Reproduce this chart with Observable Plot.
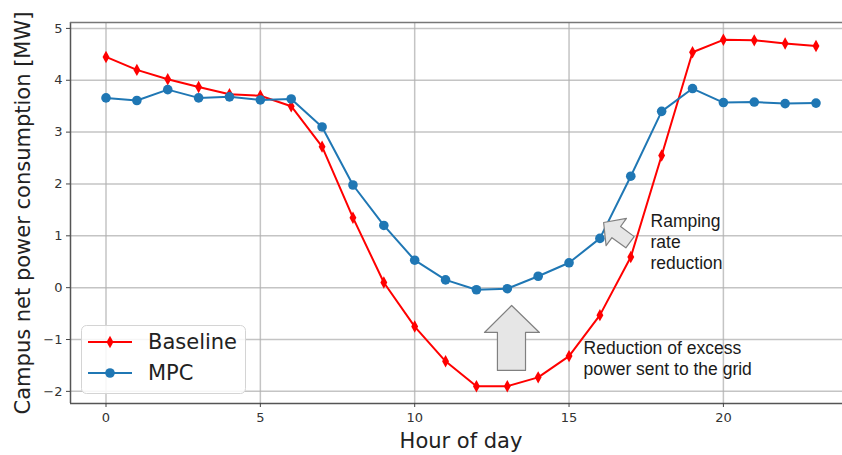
<!DOCTYPE html>
<html><head><meta charset="utf-8">
<script src="https://cdn.jsdelivr.net/npm/d3@7"></script>
<script src="https://cdn.jsdelivr.net/npm/@observablehq/plot@0.6"></script>
<style>
html,body{margin:0;padding:0;overflow:hidden;background:#fff;}
#wrap{position:relative;width:842px;height:455px;overflow:hidden;background:#fff;}
#legend{position:absolute;left:81px;top:325px;}
</style></head><body><div id="wrap"></div>
<script>
// ---- data ----
const hours = [0,1,2,3,4,5,6,7,8,9,10,11,12,13,14,15,16,17,18,19,20,21,22,23];
const baseline = [4.45,4.2,4.02,3.87,3.73,3.7,3.5,2.72,1.35,0.1,-0.75,-1.42,-1.9,-1.9,-1.73,-1.32,-0.53,0.59,2.55,4.54,4.78,4.77,4.71,4.66];
const mpc = [3.66,3.61,3.82,3.66,3.68,3.62,3.64,3.1,1.98,1.2,0.53,0.15,-0.04,-0.02,0.22,0.48,0.95,2.15,3.4,3.84,3.57,3.58,3.55,3.56];
const seriesNames = ["Baseline", "MPC"];
const xTicks = [0,5,10,15,20];
const yTicks = [-2,-1,0,1,2,3,4,5];
const xLabel = "Hour of day";
const yLabel = "Campus net power consumption [MW]";
const noteRamp = "Ramping\nrate\nreduction";
const noteGrid = "Reduction of excess\npower sent to the grid";
// annotation arrows (data coordinates)
const upArrowX = [13.14,14.04,13.59,13.59,12.68,12.68,12.26];
const upArrowY = [-0.343,-0.864,-0.864,-1.597,-1.597,-0.864,-0.864];
const rampArrowX = [16.12,16.86,16.67,17.11,16.84,16.39,16.20];
const rampArrowY = [1.257,1.335,1.180,0.984,0.768,0.964,0.810];

const RED = "#ff0000", BLUE = "#1f77b4";
const rowsB = hours.map((h,i)=>({hour:h, value:baseline[i]}));
const rowsM = hours.map((h,i)=>({hour:h, value:mpc[i]}));
const up = upArrowX.map((x,i)=>({x, y:upArrowY[i]}));
const ramp = rampArrowX.map((x,i)=>({x, y:rampArrowY[i]}));

// matplotlib-style 5% margins
const xe = d3.extent(hours), xm = (xe[1]-xe[0])*0.05;
const xDom = [xe[0]-xm, xe[1]+xm];
const all = baseline.concat(mpc);
const ye = d3.extent(all), ym = (ye[1]-ye[0])*0.05;
const yDom = [ye[0]-ym, ye[1]+ym];

const thinDiamond = {
  draw(ctx, size) {
    const r = Math.sqrt(size/Math.PI);
    const h = r*1.35, w = r*0.75;
    ctx.moveTo(0,-h); ctx.lineTo(w,0); ctx.lineTo(0,h); ctx.lineTo(-w,0); ctx.closePath();
  }
};

const chart = Plot.plot({
  width: 900, height: 455,
  marginLeft: 70, marginTop: 22, marginBottom: 52, marginRight: 49,
  style: {fontFamily: "DejaVu Sans", fontSize: "13px", color: "#333", background: "#fff", maxWidth: "none"},
  x: {domain: xDom},
  y: {domain: yDom},
  marks: [
    Plot.gridX(xTicks, {stroke: "#b0b0b0", strokeOpacity: 0.75, strokeWidth: 1.5}),
    Plot.gridY(yTicks, {stroke: "#b0b0b0", strokeOpacity: 0.75, strokeWidth: 1.5}),
    Plot.ruleX([xDom[0]], {stroke: "#555", strokeWidth: 1.5}),
    Plot.ruleY([yDom[0]], {stroke: "#555", strokeWidth: 1.5}),
    Plot.ruleY([yDom[1]], {stroke: "#777", strokeWidth: 1.5}),
    Plot.axisX({ticks: xTicks, tickSize: 4, tickPadding: 5, label: null, stroke: "#444", fill: "#333", fontSize: 13}),
    Plot.axisY({ticks: yTicks, tickSize: 4, tickPadding: 4, label: null, stroke: "#444", fill: "#333", fontSize: 13}),
    Plot.text([0], {frameAnchor: "left", text: () => yLabel, rotate: -90, dx: -47, textAnchor: "middle", lineAnchor: "middle", fontSize: 21, fill: "#222"}),
    Plot.text([0], {frameAnchor: "bottom", text: () => xLabel, dy: 38, textAnchor: "middle", lineAnchor: "middle", fontSize: 21, fill: "#222"}),
    Plot.line(rowsB, {x: "hour", y: "value", stroke: RED, strokeWidth: 2}),
    Plot.dot(rowsB, {x: "hour", y: "value", symbol: thinDiamond, r: 4.6, fill: RED, stroke: "none"}),
    Plot.line(rowsM, {x: "hour", y: "value", stroke: BLUE, strokeWidth: 2}),
    Plot.dot(rowsM, {x: "hour", y: "value", r: 4.8, fill: BLUE, stroke: "none"}),
    Plot.line(up, {x: "x", y: "y", curve: "linear-closed", fill: "#e6e6e6", stroke: "#808080", strokeWidth: 1.2}),
    Plot.line(ramp, {x: "x", y: "y", curve: "linear-closed", fill: "#e6e6e6", stroke: "#808080", strokeWidth: 1.2}),
    Plot.text([{x: 17.64, y: 0.9}], {x: "x", y: "y", text: () => noteRamp, textAnchor: "start", lineAnchor: "middle", lineHeight: 1.2, fontFamily: "Liberation Sans", fontSize: 17.5, fill: "#1a1a1a"}),
    Plot.text([{x: 15.47, y: -1.35}], {x: "x", y: "y", text: () => noteGrid, textAnchor: "start", lineAnchor: "middle", lineHeight: 1.2, fontFamily: "Liberation Sans", fontSize: 17.5, fill: "#1a1a1a"})
  ]
});
const wrap = document.getElementById("wrap");
wrap.appendChild(chart);

// legend
const lg = d3.create("svg").attr("id","legend").attr("width",166).attr("height",70);
lg.append("rect").attr("x",0.5).attr("y",0.5).attr("width",164).attr("height",68).attr("rx",5)
  .attr("fill","rgba(255,255,255,0.85)").attr("stroke","#d4d4d4");
const colors = [RED, BLUE];
seriesNames.forEach((name,i)=>{
  const cy = 17 + i*31;
  lg.append("line").attr("x1",7).attr("x2",51).attr("y1",cy).attr("y2",cy).attr("stroke",colors[i]).attr("stroke-width",2);
  if (i===0) {
    const r = 4.6, h = r*1.35, w = r*0.75;
    lg.append("path").attr("d",`M29,${cy-h}L${29+w},${cy}L29,${cy+h}L${29-w},${cy}Z`).attr("fill",colors[i]);
  } else {
    lg.append("circle").attr("cx",29).attr("cy",cy).attr("r",4.8).attr("fill",colors[i]);
  }
  lg.append("text").attr("x",67).attr("y",cy).attr("dy","0.35em").attr("font-family","DejaVu Sans")
    .attr("font-size",21).attr("fill","#222").text(name);
});
wrap.appendChild(lg.node());
</script>
</body></html>
